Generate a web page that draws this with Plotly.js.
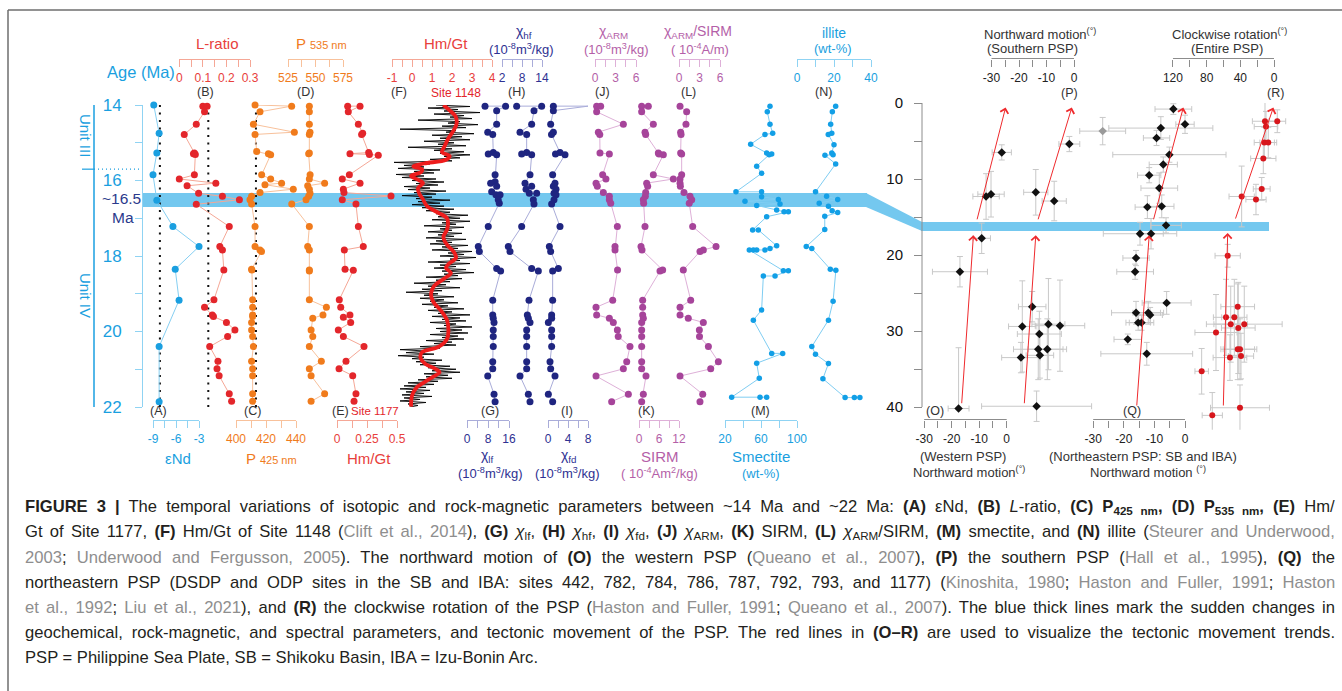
<!DOCTYPE html>
<html><head><meta charset="utf-8">
<script src="https://cdn.plot.ly/plotly-3.0.1.min.js"></script>
<style>html,body{margin:0;padding:0;background:#fff;}#chart{width:1342px;height:691px;}</style>
</head><body><div id="chart"></div>
<script>
// ---------------- DATA ----------------
// (A) eNd
const eNdAge = [14.0, 14.75, 15.27, 15.85, 16.52, 17.22, 17.75, 18.35, 19.17, 20.4, 21.86];
const eNdVal = [-8.9, -8.2, -8.5, -9.0, -8.5, -6.4, -3.0, -6.1, -5.6, -8.2, -8.2];
const eNdRef = -8.1;
// (B) L-ratio
const lRatioAge = [14.03, 14.03, 14.18, 14.51, 14.78, 15.27, 15.29, 15.31, 15.85, 15.96, 16.07, 16.14, 16.34, 16.42, 16.51, 16.63, 17.22, 17.75, 17.84, 18.37, 19.16, 19.36, 19.56, 19.6, 19.76, 19.96, 20.13, 20.4, 20.79, 20.99, 21.17, 21.65, 21.85];
const lRatioVal = [0.10, 0.118, 0.107, 0.072, 0.021, 0.064, 0.060, 0.068, 0.064, 0.0, 0.155, 0.033, 0.082, 0.183, 0.255, 0.072, 0.212, 0.172, 0.183, 0.189, 0.147, 0.107, 0.14, 0.145, 0.2, 0.236, 0.205, 0.129, 0.164, 0.16, 0.169, 0.212, 0.222];
const lRatioRef = 0.123;
// (C) P425
const p425Age = [14.0, 14.03, 14.18, 14.51, 14.72, 14.78, 15.23, 15.29, 15.32, 15.85, 15.96, 16.07, 16.11, 16.23, 16.32, 16.42, 16.51, 16.62, 17.22, 17.75, 17.84, 17.88, 18.35, 18.37, 19.16, 19.36, 19.56, 19.6, 19.76, 19.96, 20.13, 20.4, 20.79, 20.99, 21.17, 21.65, 21.85];
const p425Val = [412.7, 437.1, 416, 411.6, 438.9, 412.7, 413.8, 421.6, 423.1, 417.1, 423.1, 430.4, 419.3, 438.2, 416, 410.4, 409.3, 410.4, 412.7, 412.7, 416, 417, 410.4, 410.6, 411.1, 411.1, 411.1, 411.1, 410.4, 410.4, 411.1, 411.6, 410.4, 411.1, 411.1, 411.1, 411.1];
const p425Ref = 413.3;
// (D) P535
const p535Age = [14.03, 14.18, 14.51, 14.72, 14.78, 15.27, 15.29, 15.85, 15.96, 16.07, 16.14, 16.23, 16.34, 16.42, 16.51, 16.62, 17.22, 17.75, 17.84, 18.37, 18.4, 19.16, 19.36, 19.56, 19.65, 19.96, 20.13, 20.4, 20.79, 20.99, 21.17, 21.65, 21.85];
const p535Val = [544.4, 544.4, 544.4, 545, 544.4, 544.4, 543.8, 545.1, 544.4, 558.3, 542.9, 544.4, 545, 543.8, 541.4, 528.4, 544.4, 542.9, 544.4, 544.4, 544.4, 544.4, 559.9, 556.8, 547.5, 546, 547.5, 544.4, 555.3, 544.4, 546, 558.3, 546];
// (E) Hm/Gt Site 1177
const hg1177Age = [14.03, 14.03, 14.18, 14.51, 14.75, 14.78, 15.26, 15.29, 15.31, 15.33, 15.85, 15.96, 16.07, 16.23, 16.32, 16.41, 16.51, 16.62, 17.22, 17.75, 17.84, 18.35, 18.38, 19.16, 19.36, 19.56, 19.62, 19.76, 19.96, 20.13, 20.4, 20.79, 20.99, 21.17, 21.65, 21.85];
const hg1177Val = [0.089, 0.192, 0.094, 0.178, 0.214, 0.205, 0.264, 0.108, 0.27, 0.344, 0.103, 0.044, 0.192, 0.053, 0.058, 0.45, 0.044, 0.158, 0.178, 0.219, 0.061, 0.067, 0.136, 0.019, 0.031, 0.108, 0.053, 0.114, 0.011, 0.053, 0.225, 0.075, 0.017, 0.131, 0.158, 0.142];
// (F) Hm/Gt Site 1148 : raw record (black) and smoothed (red)
const hg1148Age = [
14.00,14.04,14.08,14.12,14.16,14.20,14.24,14.28,14.32,14.36,14.40,14.44,14.48,14.52,14.56,14.60,14.64,14.68,14.72,14.76,14.80,14.84,14.88,14.92,14.96,
15.00,15.04,15.08,15.12,15.16,15.20,15.24,15.28,15.32,15.36,15.40,15.44,15.48,15.52,15.56,15.60,15.64,15.68,15.72,15.76,15.80,15.84,15.88,15.92,15.96,
16.00,16.04,16.08,16.12,16.16,16.20,16.24,16.28,16.32,16.36,16.40,16.44,16.48,16.52,16.56,16.60,16.64,16.68,16.72,16.76,16.80,16.84,16.88,16.92,16.96,
17.00,17.04,17.08,17.12,17.16,17.20,17.24,17.28,17.32,17.36,17.40,17.44,17.48,17.52,17.56,17.60,17.64,17.68,17.72,17.76,17.80,17.84,17.88,17.92,17.96,
18.00,18.04,18.08,18.12,18.16,18.20,18.24,18.28,18.32,18.36,18.40,18.44,18.48,18.52,18.56,18.60,18.64,18.68,18.72,18.76,18.80,18.84,18.88,18.92,18.96,
19.00,19.04,19.08,19.12,19.16,19.20,19.24,19.28,19.32,19.36,19.40,19.44,19.48,19.52,19.56,19.60,19.64,19.68,19.72,19.76,19.80,19.84,19.88,19.92,19.96,
20.00,20.04,20.08,20.12,20.16,20.20,20.24,20.28,20.32,20.36,20.40,20.44,20.48,20.52,20.56,20.60,20.64,20.68,20.72,20.76,20.80,20.84,20.88,20.92,20.96,
21.00,21.04,21.08,21.12,21.16,21.20,21.24,21.28,21.32,21.36,21.40,21.44,21.48,21.52,21.56,21.60,21.64,21.68,21.72,21.76,21.80,21.84,21.88,21.92,21.96,
22.00];
const hg1148Val = [
1.2,2.9,0.8,2.3,1.6,3.4,1.1,2.6,1.9,3.0,0.3,2.4,1.8,3.3,1.5,2.7,-0.6,2.2,1.7,3.1,1.0,2.5,1.4,2.9,0.6,
2.1,1.3,2.7,-0.2,2.0,1.1,2.6,1.4,2.9,1.6,2.4,0.9,2.0,-0.9,0.9,-0.4,0.6,-0.7,1.4,0.1,1.1,-0.8,0.6,-0.5,1.2,
0.0,1.6,0.2,1.3,-0.4,0.9,-0.2,1.7,0.1,1.2,-0.5,1.0,0.2,1.9,0.3,1.4,0.0,1.6,0.5,2.1,0.7,1.9,1.2,2.8,1.3,
2.4,1.0,2.9,1.5,2.2,0.6,2.6,1.4,2.0,0.8,2.5,1.3,2.1,0.7,2.7,1.2,2.0,0.9,2.8,1.5,2.3,1.0,3.0,1.8,2.6,
1.4,3.2,1.9,2.4,0.8,2.9,1.4,2.2,1.1,2.7,1.5,3.1,1.6,2.3,0.7,2.5,1.2,1.9,0.1,1.7,0.8,2.4,0.5,1.5,-0.3,
1.3,0.6,2.1,0.4,1.6,0.9,2.3,0.5,1.8,1.1,2.6,0.8,2.0,1.3,2.9,1.0,2.4,1.5,2.7,0.9,2.2,1.6,3.0,1.2,2.5,
1.4,2.8,0.9,2.3,1.5,2.6,0.7,2.0,1.1,2.2,0.4,1.4,-0.6,0.8,-0.3,1.1,-0.7,0.6,0.0,1.5,0.2,1.2,0.4,1.9,0.8,
2.2,1.0,2.4,0.6,1.8,0.7,2.0,0.3,1.3,-0.2,1.1,-0.4,0.7,-0.6,0.9,-0.3,0.6,-0.5,1.0,-0.4,0.4,-0.6,0.7,-0.2,0.3,
-0.1];
const hg1148SmoothAge = [14.0,14.15,14.3,14.5,14.7,14.9,15.1,15.25,15.35,15.45,15.55,15.63,15.7,15.78,15.88,15.98,16.07,16.2,16.33,16.5,16.68,16.85,17.0,17.15,17.3,17.5,17.7,17.9,18.05,18.2,18.32,18.45,18.6,18.8,19.0,19.2,19.45,19.7,20.0,20.2,20.4,20.55,20.68,20.85,21.0,21.08,21.2,21.35,21.5,21.7,21.99];
const hg1148SmoothVal = [1.57,1.9,2.18,2.23,2.05,1.8,1.62,1.5,1.88,1.7,0.6,0.07,0.5,0.45,-0.05,0.3,0.55,0.3,0.35,0.55,0.75,1.3,1.75,1.8,1.75,1.57,1.75,2.1,2.2,1.85,1.7,1.95,1.6,1.1,0.95,1.05,1.45,1.75,1.82,1.75,1.35,0.5,0.42,0.65,1.2,1.38,1.05,0.6,0.2,0.0,-0.05];
// (G) chi_lf
const chiLfAge = [14.03, 14.03, 14.15, 14.51, 14.72, 14.78, 15.26, 15.3, 15.32, 15.85, 16.03, 16.07, 16.15, 16.3, 16.38, 16.38, 16.51, 16.6, 17.22, 17.75, 17.88, 18.33, 18.4, 19.17, 19.56, 19.65, 19.76, 19.96, 20.13, 20.4, 20.8, 20.99, 21.18, 21.66, 21.86];
const chiLfVal = [6.86, 14.7, 11.3, 11.3, 7.9, 9.8, 10, 8.1, 11.3, 10.7, 10.7, 9.0, 11.3, 9.4, 11.0, 12.6, 11.9, 12.3, 8.1, 4.3, 4.7, 11.3, 12.8, 9.8, 9.8, 10.0, 10.3, 10.0, 10.0, 10.0, 9.8, 9.8, 7.9, 10.3, 10.7];
// (H) chi_hf
const chiHfAge = [14.03, 14.03, 14.15, 14.51, 14.72, 14.78, 15.26, 15.3, 15.32, 15.85, 16.07, 16.15, 16.23, 16.34, 16.34, 16.51, 16.62, 17.22, 17.75, 17.88, 18.33, 18.4, 19.17, 19.56, 19.65, 19.76, 19.96, 20.13, 20.4, 20.8, 20.99, 21.18, 21.66, 21.86];
const chiHfVal = [6.4, 13.9, 11.6, 10.9, 7.4, 9.4, 9.4, 7.9, 10.9, 10.4, 8.9, 10.9, 9.2, 10.2, 12.4, 11.4, 11.6, 7.9, 3.9, 4.4, 10.9, 12.9, 10.1, 9.6, 9.9, 10.4, 9.4, 9.4, 9.4, 9.4, 9.4, 7.4, 9.9, 10.4];
// (I) chi_fd
const chiFdAge = [14.03, 14.03, 14.15, 14.51, 14.72, 14.78, 15.26, 15.3, 15.32, 15.85, 16.07, 16.15, 16.23, 16.34, 16.38, 16.51, 16.62, 17.22, 17.75, 17.88, 18.33, 18.4, 19.17, 19.56, 19.65, 19.76, 19.96, 20.13, 20.4, 20.8, 20.99, 21.18, 21.66, 21.86];
const chiFdVal = [1.07, 8.07, 1.07, 0.53, 1.07, 0.7, 2.4, 1.5, 3.4, 0.93, 1.4, 1.07, 1.6, 1.2, 1.6, 1.2, 0.73, 2.4, 0.27, 0.53, 2.07, 0.93, 0.93, 0.73, 0.73, 0.07, 0.73, 0.73, 0.73, 0.4, 0.53, 1.4, 0.07, 0.93];
// (J) chi_ARM
const chiArmAge = [14.03, 14.03, 14.18, 14.51, 14.72, 14.78, 15.27, 15.3, 15.85, 15.96, 16.07, 16.15, 16.32, 16.42, 16.51, 16.6, 17.22, 17.75, 17.84, 18.37, 19.17, 19.36, 19.56, 19.65, 19.76, 19.96, 20.13, 20.4, 20.8, 20.99, 21.18, 21.66, 21.86];
const chiArmVal = [0.24, 0.83, 0.24, 4.15, 0.49, 0.7, 0.73, 2.1, 1.12, 1.6, 0.15, 0.34, 1.22, 2.1, 2.1, 2.3, 3.27, 2.93, 2.93, 3.3, 2.59, 0.15, 0.24, 2.1, 2.68, 3.27, 3.4, 5.12, 4.64, 4.15, 0.15, 4.88, 2.44];
// (K) SIRM
const sirmAge = [14.03, 14.03, 14.18, 14.51, 14.72, 14.78, 15.27, 15.3, 15.32, 15.85, 15.96, 16.07, 16.15, 16.32, 16.42, 16.51, 16.6, 17.22, 17.75, 17.84, 18.37, 18.4, 19.17, 19.36, 19.56, 19.65, 19.76, 19.96, 20.13, 20.4, 20.8, 20.99, 21.18, 21.66, 21.86];
const sirmVal = [0.8, 2.8, 0.8, 4.3, 1.8, 2.0, 5.8, 6.0, 7.3, 4.3, 10.3, 2.3, 2.6, 2.0, 1.9, 1.3, 1.4, 1.8, 0.6, 0.9, 7.1, 6.3, 1.1, 1.1, 1.1, 1.3, 0.8, 0.8, 0.8, 0.8, 0.8, 0.8, 2.1, 1.3, 0.8];
// (L) chi_ARM/SIRM
const armSirmAge = [14.03, 14.18, 14.51, 14.72, 14.78, 15.27, 15.3, 15.85, 15.96, 16.07, 16.15, 16.32, 16.42, 16.51, 16.6, 17.22, 17.75, 17.84, 17.88, 18.37, 19.17, 19.36, 19.56, 19.65, 19.76, 19.96, 20.13, 20.4, 20.8, 20.99, 21.18, 21.66, 21.86];
const armSirmVal = [0.15, 1.12, 1.02, 0.24, 0.3, 0.24, 0.39, 0.39, 0.15, 0.15, 0.2, 0.73, 1.61, 1.86, 1.5, 2.0, 5.42, 3.56, 3.07, 0.63, 1.71, 0.15, 0.15, 1.36, 3.56, 2.98, 3.0, 4.3, 5.76, 4.64, 0.15, 3.47, 3.07];
// (M) smectite
const smecAge = [14.03, 14.18, 14.51, 14.75, 14.78, 15.04, 15.27, 15.30, 15.32, 15.62, 15.81, 16.30, 16.30, 16.43, 16.50, 16.55, 16.62, 16.66, 16.78, 16.83, 16.83, 16.96, 17.31, 17.31, 17.73, 17.80, 17.84, 17.84, 17.84, 17.84, 18.39, 18.39, 18.53, 18.53, 19.43, 19.70, 20.58, 20.58, 20.84, 21.24, 21.74, 21.74, 21.74];
const smecVal = [70, 67, 70, 73, 64.4, 48.5, 66.3, 71.9, 69, 55.2, 60.7, 32.2, 60.7, 60.7, 79.3, 42.2, 81.1, 55.2, 77.4, 85.6, 90.4, 66.3, 50.7, 57.0, 77.4, 70, 64.4, 55.2, 51.5, 47, 84.8, 90.4, 75.6, 62.6, 60.7, 51.5, 71.9, 84.1, 55.2, 58.1, 27.4, 58.9, 66.3];
// (N) illite
const illAge = [14.03, 14.18, 14.51, 14.75, 14.78, 15.05, 15.27, 15.32, 15.33, 15.56, 16.3, 16.42, 16.5, 16.6, 16.68, 16.8, 16.85, 16.95, 17.3, 17.75, 17.8, 18.35, 18.38, 19.2, 19.7, 20.4, 20.6, 20.85, 21.25, 21.75, 21.75, 21.75];
const illVal = [20.9, 19.1, 18.2, 18.8, 16.9, 20, 18.8, 19.5, 15.1, 20.9, 10, 16, 22, 12, 17, 19, 22, 15, 15, 5, 8, 18, 21, 19.5, 17, 8, 10, 17, 14, 26, 31, 34];
// (O) western PSP northward motion
const westAge = [6.5, 12.0, 12.3, 17.8, 22.2, 40.2];
const westVal = [-1.8, -5.7, -7.5, -9.1, -17.0, -17.5];
const westErrX = [3.5, 4.8, 4.8, 3.2, 10, 3.8];
const westErrYUp = [1, 3, 3, 2, 2, 8];
const westErrYDown = [1, 3, 3, 2, 2, 0];
// (P) southern PSP northward motion
const southAge = [5.4, 11.75, 12.9, 26.8, 29.1, 29.3, 29.4, 30.4, 32.4, 32.4, 33.2, 33.5, 39.9];
const southVal = [-1.7, -13.9, -7.2, -15.2, -9.3, -5.1, -18.8, -12.6, -13, -9.7, -12.4, -19.3, -13.6];
const southErrX = [3.8, 4.4, 4.4, 5, 6, 9, 5, 8, 9, 7, 5, 7, 20];
const southErrY = [1, 3, 2.6, 2, 6, 6, 6, 3, 4, 4, 3, 2, 2];
// (Q) northeastern PSP northward motion
const neAge = [0.8, 2.8, 3.3, 4.6, 6.8, 8.1, 9.5, 11.2, 13.6, 13.7, 16.1, 17.2, 17.2, 20.4, 22.2, 26.3, 27.6, 27.6, 27.9, 28.9, 28.9, 31.1, 33.0];
const neVal = [-3.8, 0, -7.9, -9.3, -5.1, -7.1, -11.7, -8.4, -7.6, -12.3, -6.2, -14.7, -11.1, -16, -16.3, -6, -16, -12, -11.4, -15.3, -14.2, -18.7, -12.5];
const neErrX = [6, 3, 17, 4.3, 18.5, 4.6, 3.8, 6, 4, 4, 5, 12, 4, 4.3, 6, 8, 8, 5, 4, 4, 4, 4.5, 15];
const neErrY = [0.7, 1.2, 1.5, 1, 1, 1, 1, 2, 1.5, 1.5, 1, 1.5, 2, 1, 1, 1.5, 1.5, 1.5, 1, 1, 1, 0.7, 1.5];
const neOutAge = [3.7], neOutVal = [-26.9], neOutErrX = [7.5], neOutErrY = [1.8];
// (R) clockwise rotation of entire PSP
const rotAge = [2.4, 2.4, 3.1, 5.2, 5.2, 7.3, 11.3, 12.3, 12.7, 20.1, 26.8, 28.2, 28.2, 29.1, 29.1, 29.6, 30.2, 32.4, 32.4, 33.3, 33.5, 35.3, 40.1, 41.1];
const rotVal = [10.7, -3.9, 9.5, 11.5, 6.8, 12.7, 14.6, 38.4, 21.4, 55, 43.1, 57, 47.1, 51.4, 35.3, 42.4, 68.9, 43.1, 40.4, 39.2, 52.3, 85.9, 40.4, 73.3];
const rotErrX = [15, 10, 14, 12, 10, 15, 10, 15, 12, 15, 20, 15, 15, 20, 45, 20, 25, 20, 20, 15, 20, 8, 35, 12];
const rotErrY = [2.5, 1.5, 2, 2, 2, 2, 1.5, 4, 2, 1.5, 3, 5, 5, 5, 5, 6, 5, 4, 4, 3, 3, 3, 3, 3];
// trend arrows (O, O, P, P, Q, Q, R, R)
const trendPanel = ['O','O','P','P','Q','Q','R','R'];
const trendTailVal = [-16.4, -10.9, -18.1, -13.2, -15.8, -10.4, 60.2, 46.3];
const trendTailAge = [39.7, 15.5, 39.7, 15.5, 40.0, 15.5, 40.0, 15.4];
const trendHeadVal = [-12.1, -0.4, -13.9, -0.8, -11.7, -0.56, 55.0, 0.8];
const trendHeadAge = [17.4, 0.6, 17.4, 0.6, 17.4, 0.6, 17.1, 0.6];
// sudden-change band (~16.5 Ma)
const bandLeftAge = [16.33, 16.70];
const bandRightAge = [15.66, 16.84];
const unitBoundaryAge = 15.7;
// tick values / labels
const ageTicksLeft = [14,15,16,17,18,19,20,21,22];
const ageLabelsLeft = ['14','','16','','18','','20','','22'];
const ageTicksRight = [0,5,10,15,20,25,30,35,40];
const ageLabelsRight = ['0','','10','','20','','30','','40'];
const ticksA = [-9,-7.5,-6,-4.5,-3], labelsA = ['-9','','-6','','-3'];
const ticksB = [0,0.05,0.1,0.15,0.2,0.25,0.3], labelsB = ['0','','0.1','','0.2','','0.3'];
const ticksC = [400,410,420,430,440], labelsC = ['400','','420','','440'];
const ticksD = [525,537.5,550,562.5,575], labelsD = ['525','','550','','575'];
const ticksE = [0,0.125,0.25,0.375,0.5], labelsE = ['0','','0.25','','0.5'];
const ticksF = [-1,-0.5,0,0.5,1,1.5,2,2.5,3,3.5,4], labelsF = ['-1','','0','','1','','2','','3','','4'];
const ticksG = [0,4,8,12,16], labelsG = ['0','','8','','16'];
const ticksH = [2,5,8,11,14], labelsH = ['2','','8','','14'];
const ticksI = [0,2,4,6,8], labelsI = ['0','','4','','8'];
const ticksJ = [0,1.5,3,4.5,6], labelsJ = ['0','','3','','6'];
const ticksK = [0,3,6,9,12], labelsK = ['0','','6','','12'];
const ticksL = [0,1.5,3,4.5,6], labelsL = ['0','','3','','6'];
const ticksM = [20,40,60,80,100], labelsM = ['20','','60','','100'];
const ticksN = [0,10,20,30,40], labelsN = ['0','','20','','40'];
const ticksMotion = [-30,-25,-20,-15,-10,-5,0], labelsMotion = ['-30','','-20','','-10','','0'];
const ticksRot = [120,100,80,60,40,20,0], labelsRot = ['120','','80','','40','','0'];

// ---------------- LAYOUT HELPERS ----------------
const FONT = 'Liberation Sans, Arial, Helvetica, sans-serif';
const W = 1342, H = 691;
const px = x => x / W;
const py = y => 1 - y / H;
const leftY = a => 105 + (a - 14) * 37.75;
const rightY = a => 103 + a * 7.6;
const TOPPOS = py(58.5), BOTPOS = py(419.5);

const col = {
  blue:'#1a9fe0', blueL:'#8fd3f3', red:'#e3262b', redT:'#e8403c', redL:'#f5a796',
  orange:'#f07b1c', orangeL:'#f8c19b', navy:'#1f2580', navyL:'#a9acd9', navyT:'#2e3192',
  purple:'#a6449a', purpleL:'#deb0d8', purpleT:'#b45fa8', gray:'#8a8a8a', dark:'#333333'
};

const layout = {
  width: W, height: H, margin:{l:0,r:0,t:0,b:0}, paper_bgcolor:'#ffffff', plot_bgcolor:'rgba(0,0,0,0)',
  showlegend:false, font:{family:FONT}, shapes:[], annotations:[]
};

function xAxis(x0, x1, lo, hi, top, tv, tt, lineCol, fontCol, showLine) {
  return {domain:[px(x0), px(x1)], range:[lo, hi], anchor:'free', position: top ? TOPPOS : BOTPOS, side:'bottom',
    showline: showLine, linecolor: lineCol, linewidth:1, ticks:'outside', ticklen:7, tickwidth:1, tickcolor: lineCol,
    tickmode:'array', tickvals: tv, ticktext: tt, tickfont:{family:FONT, size:12, color: fontCol},
    showgrid:false, zeroline:false, fixedrange:true, ticklabelstandoff:1};
}

const leftPanels = [
  ['A',153,199,-9,-3,false,ticksA,labelsA,col.blueL,col.blue],
  ['B',179.3,250,0,0.3,true,ticksB,labelsB,col.redL,col.redT],
  ['C',236,296,400,440,false,ticksC,labelsC,col.orangeL,col.orange],
  ['D',288,343,525,575,true,ticksD,labelsD,col.orangeL,col.orange],
  ['E',337,397,0,0.5,false,ticksE,labelsE,col.redL,col.redT],
  ['F',392,492,-1,4,true,ticksF,labelsF,col.redL,col.redT],
  ['G',467,509,0,16,false,ticksG,labelsG,col.navyL,col.navyT],
  ['H',502,542,2,14,true,ticksH,labelsH,col.navyL,col.navyT],
  ['I',548,588,0,8,false,ticksI,labelsI,col.navyL,col.navyT],
  ['J',595,636,0,6,true,ticksJ,labelsJ,col.purpleL,col.purpleT],
  ['K',639,679,0,12,false,ticksK,labelsK,col.purpleL,col.purpleT],
  ['L',679,720,0,6,true,ticksL,labelsL,col.purpleL,col.purpleT],
  ['M',725,797,20,100,false,ticksM,labelsM,col.blueL,col.blue],
  ['N',797,871,0,40,true,ticksN,labelsN,col.blueL,col.blue]
];
const axId = {};
leftPanels.forEach((p, i) => {
  const n = i + 1;
  axId[p[0]] = 'x' + (n === 1 ? '' : n);
  layout['xaxis' + (n === 1 ? '' : n)] = xAxis(p[1], p[2], p[3], p[4], p[5], p[6], p[7], p[8], p[9], true);
});
const RX0 = 880, RX1 = 1300;
const rightPanels = [
  ['O',1006.7,2.75,false,false,ticksMotion,labelsMotion,-30,0],
  ['P',1074,2.75,false,true,ticksMotion,labelsMotion,-30,0],
  ['Q',1185,3.06,false,false,ticksMotion,labelsMotion,-30,0],
  ['R',1274,0.842,true,true,ticksRot,labelsRot,120,0]
];
rightPanels.forEach((p, i) => {
  const n = 15 + i;
  axId[p[0]] = 'x' + n;
  let lo, hi;
  if (!p[3]) { lo = (RX0 - p[1]) / p[2]; hi = (RX1 - p[1]) / p[2]; }
  else { lo = (p[1] - RX0) / p[2]; hi = (p[1] - RX1) / p[2]; }
  layout['xaxis' + n] = xAxis(RX0, RX1, lo, hi, p[4], p[5], p[6], '#8c8c8c', '#222', false);
  layout.shapes.push({type:'line', xref:'x' + n, yref:'paper', x0:p[7], x1:p[8], y0:p[4]?TOPPOS:BOTPOS, y1:p[4]?TOPPOS:BOTPOS, line:{color:'#8c8c8c', width:1}});
});

layout.yaxis = {domain:[py(407), py(105)], range:[22,14], anchor:'free', position:px(142), side:'left',
  showline:true, linecolor:col.blueL, linewidth:1, ticks:'outside', ticklen:7, tickcolor:col.blueL,
  tickmode:'array', tickvals:ageTicksLeft, ticktext:ageLabelsLeft, tickfont:{family:FONT, size:17, color:col.blue},
  ticklabelstandoff:10, showgrid:false, zeroline:false, fixedrange:true};
layout.yaxis2 = {domain:[py(rightY(43)), py(103)], range:[43,0], anchor:'free', position:px(922), side:'left',
  showline:false, ticks:'outside', ticklen:8, tickcolor:'#8c8c8c',
  tickmode:'array', tickvals:ageTicksRight, ticktext:ageLabelsRight, tickfont:{family:FONT, size:15, color:'#111'},
  ticklabelstandoff:8, showgrid:false, zeroline:false, fixedrange:true};
layout.shapes.push({type:'line', xref:'paper', yref:'y2', x0:px(922), x1:px(922), y0:0, y1:40, line:{color:'#8c8c8c', width:1}});

// bands
const BAND = '#74c8ef';
layout.shapes.push({type:'rect', layer:'below', xref:'paper', yref:'y', x0:px(142), x1:px(867), y0:bandLeftAge[0], y1:bandLeftAge[1], fillcolor:BAND, line:{width:0}});
layout.shapes.push({type:'path', layer:'below', xref:'paper', yref:'paper',
  path:`M ${px(866)},${py(leftY(bandLeftAge[0]))} L ${px(922)},${py(rightY(bandRightAge[0]))} L ${px(922)},${py(rightY(bandRightAge[1]))} L ${px(866)},${py(leftY(bandLeftAge[1]))} Z`,
  fillcolor:BAND, line:{width:0}});
layout.shapes.push({type:'rect', layer:'below', xref:'paper', yref:'y2', x0:px(921), x1:px(1269), y0:bandRightAge[0], y1:bandRightAge[1], fillcolor:BAND, line:{width:0}});

// unit decorations
layout.shapes.push({type:'line', xref:'paper', yref:'y', x0:px(94), x1:px(94), y0:13.87, y1:22, line:{color:col.blue, width:1.5}});
layout.shapes.push({type:'line', xref:'paper', yref:'y', x0:px(82), x1:px(94), y0:unitBoundaryAge, y1:unitBoundaryAge, line:{color:col.blue, width:1.2}});
layout.shapes.push({type:'line', xref:'paper', yref:'y', x0:px(94), x1:px(142), y0:unitBoundaryAge, y1:unitBoundaryAge, line:{color:col.blue, width:1.2, dash:'1px,3px'}});

// frame
layout.shapes.push({type:'line', xref:'paper', yref:'paper', x0:px(8), x1:1, y0:py(10), y1:py(10), line:{color:'#6e6e6e', width:1.5}});
layout.shapes.push({type:'line', xref:'paper', yref:'paper', x0:px(8), x1:px(8), y0:py(10), y1:0, line:{color:'#6e6e6e', width:1.5}});

// ---------------- TRACES ----------------
const traces = [];
function series(panel, ages, vals, mcol, lcol, msize) {
  traces.push({type:'scatter', mode:'lines+markers', x:vals, y:ages, xaxis:axId[panel], yaxis:'y',
    line:{color:lcol, width:1}, marker:{color:mcol, size:msize || 7}, cliponaxis:false, hoverinfo:'skip'});
}
function refLine(panel, v) {
  traces.push({type:'scatter', mode:'lines', x:[v, v], y:[14, 22], xaxis:axId[panel], yaxis:'y',
    line:{color:'#111', width:2, dash:'2px,5.5px'}, hoverinfo:'skip', cliponaxis:false});
}
refLine('A', eNdRef); refLine('B', lRatioRef); refLine('C', p425Ref);
series('A', eNdAge, eNdVal, col.blue, '#86cff2');
series('B', lRatioAge, lRatioVal, col.red, col.redL);
series('C', p425Age, p425Val, col.orange, col.orangeL);
series('D', p535Age, p535Val, col.orange, col.orangeL);
series('E', hg1177Age, hg1177Val, col.red, col.redL);
traces.push({type:'scatter', mode:'lines', x:hg1148Val, y:hg1148Age, xaxis:axId.F, yaxis:'y', line:{color:'#000', width:0.9}, hoverinfo:'skip'});
traces.push({type:'scatter', mode:'lines', x:hg1148SmoothVal, y:hg1148SmoothAge, xaxis:axId.F, yaxis:'y', line:{color:'#ee1c1c', width:3.8, shape:'spline', smoothing:1}, hoverinfo:'skip'});
series('G', chiLfAge, chiLfVal, col.navy, col.navyL);
series('H', chiHfAge, chiHfVal, col.navy, col.navyL);
series('I', chiFdAge, chiFdVal, col.navy, col.navyL);
series('J', chiArmAge, chiArmVal, col.purple, col.purpleL);
series('K', sirmAge, sirmVal, col.purple, col.purpleL);
series('L', armSirmAge, armSirmVal, col.purple, col.purpleL);
series('M', smecAge, smecVal, '#129fe6', '#7fcdf2', 5.5);
series('N', illAge, illVal, '#129fe6', '#7fcdf2', 5.5);

function errPts(panel, ages, vals, ex, ey, eyMinus, mcol, symbol) {
  traces.push({type:'scatter', mode:'markers', x:vals, y:ages, xaxis:axId[panel], yaxis:'y2',
    marker:{color:mcol, size:symbol === 'diamond' ? 6.5 : 6, symbol:symbol},
    error_x:{type:'data', array:ex, color:'#c8c8c8', thickness:1, width:3},
    error_y:{type:'data', array:ey, arrayminus:eyMinus || ey, symmetric:false, color:'#c8c8c8', thickness:1, width:3},
    cliponaxis:false, hoverinfo:'skip'});
}
errPts('O', westAge, westVal, westErrX, westErrYDown, westErrYUp, '#111', 'diamond');
errPts('P', southAge, southVal, southErrX, southErrY, null, '#111', 'diamond');
errPts('Q', neAge, neVal, neErrX, neErrY, null, '#111', 'diamond');
errPts('Q', neOutAge, neOutVal, neOutErrX, neOutErrY, null, '#9a9a9a', 'diamond');
errPts('R', rotAge, rotVal, rotErrX, rotErrY, null, '#d7161c', 'circle');

trendPanel.forEach((p, i) => {
  layout.annotations.push({xref:axId[p], yref:'y2', axref:axId[p], ayref:'y2', x:trendHeadVal[i], y:trendHeadAge[i],
    ax:trendTailVal[i], ay:trendTailAge[i], showarrow:true, arrowhead:4, arrowsize:1.6, arrowwidth:1, arrowcolor:'#ef2a2d', text:'', standoff:0});
});

// ---------------- TEXT ----------------
function ann(text, x, y, size, color, extra) {
  layout.annotations.push(Object.assign({text, x:px(x), y:py(y), xref:'paper', yref:'paper', showarrow:false,
    xanchor:'center', yanchor:'middle', font:{family:FONT, size, color}}, extra || {}));
}
const sup = s => `<sup>${s}</sup>`;
const unitMass = `(10${sup('-8')}m${sup('3')}/kg)`;
// top titles
ann('Age (Ma)', 141, 72, 16.5, col.blue);
ann('L-ratio', 218, 43, 15, col.redT);
ann('P <span style="font-size:11px">535 nm</span>', 321, 43, 15, col.orange);
ann('Hm/Gt', 446, 43, 15, col.redT);
ann('χ<sub>hf</sub>', 524, 32, 14, col.navyT);
ann(unitMass, 521, 49, 13, col.navyT);
ann('χ<sub>ARM</sub>', 613, 32, 14, col.purpleT);
ann(unitMass, 616, 49, 13, col.purpleT);
ann('χ<sub>ARM</sub>/SIRM', 698, 32, 14, col.purpleT);
ann(`( 10${sup('-4')}A/m)`, 700, 49, 13, col.purpleT);
ann('illite', 834, 33, 14, col.blue);
ann('(wt-%)', 833, 49, 13, col.blue);
ann('Northward motion' + sup('(°)'), 1040, 34, 13, col.dark);
ann('(Southern PSP)', 1032, 49, 13, col.dark);
ann('Clockwise rotation' + sup('(°)'), 1229, 34, 13, col.dark);
ann('(Entire PSP)', 1227, 49, 13, col.dark);
// panel letters top
ann('(B)', 205, 92, 12.5, col.dark); ann('(D)', 305, 92, 12.5, col.dark); ann('(F)', 399, 92, 12.5, col.dark);
ann('Site 1148', 429, 93, 12, col.red, {xanchor:'left'}); ann('(H)', 516, 92, 12.5, col.dark); ann('(J)', 602, 92, 12.5, col.dark);
ann('(L)', 688, 92, 12.5, col.dark); ann('(N)', 823, 92, 12.5, col.dark);
ann('(P)', 1069, 93, 12.5, col.dark); ann('(R)', 1275, 93, 12.5, col.dark);
// panel letters bottom
ann('(A)', 158, 411, 12.5, col.dark); ann('(C)', 253, 411, 12.5, col.dark); ann('(E)', 340, 411, 12.5, col.dark);
ann('Site 1177', 349, 411, 11.5, col.red, {xanchor:'left'}); ann('(G)', 490, 411, 12.5, col.dark); ann('(I)', 567, 411, 12.5, col.dark);
ann('(K)', 646, 411, 12.5, col.dark); ann('(M)', 760, 411, 12.5, col.dark);
ann('(O)', 935, 411, 12.5, col.dark); ann('(Q)', 1132, 411, 12.5, col.dark);
// bottom titles
ann('εNd', 178, 458, 15, col.blue);
ann('P <span style="font-size:11px">425 nm</span>', 271, 458, 15, col.orange);
ann('Hm/Gt', 369, 458, 15, col.redT);
ann('χ<sub>lf</sub>', 487, 456, 14, col.navyT); ann(unitMass, 490, 473, 13, col.navyT);
ann('χ<sub>fd</sub>', 569, 456, 14, col.navyT); ann(unitMass, 567, 473, 13, col.navyT);
ann('SIRM', 660, 457, 15, col.purpleT); ann(`( 10${sup('-4')}Am${sup('2')}/kg)`, 659, 473, 13, col.purpleT);
ann('Smectite', 761, 457, 15, col.blue); ann('(wt-%)', 761, 473, 13, col.blue);
ann('(Western PSP)', 963, 457, 13, col.dark); ann('Northward motion' + sup('(°)'), 969, 472, 13, col.dark);
ann('(Northeastern PSP: SB and IBA)', 1143, 457, 13, col.dark); ann('Northward motion ' + sup('(°)'), 1148, 472, 13, col.dark);
// age axis extras
ann('~16.5', 121, 198, 15.5, '#2b3a8c'); ann('Ma', 123, 217, 15.5, '#2b3a8c');
ann('Unit III', 86, 135, 15, col.blue, {textangle:90});
ann('Unit IV', 86, 295, 15, col.blue, {textangle:90});

// caption
const g = s => `<span style="color:#8e8e8e">${s}</span>`;
const captionLines = [
  `<b>FIGURE 3 |</b> The temporal variations of isotopic and rock-magnetic parameters between ~14 Ma and ~22 Ma: <b>(A)</b> εNd, <b>(B)</b> <i>L</i>-ratio, <b>(C) P<sub>425 nm</sub>,</b> <b>(D) P<sub>535 nm</sub>,</b> <b>(E)</b> Hm/`,
  `Gt of Site 1177, <b>(F)</b> Hm/Gt of Site 1148 (${g('Clift et al., 2014')}), <b>(G)</b> <i>χ</i><sub>lf</sub>, <b>(H)</b> <i>χ</i><sub>hf</sub>, <b>(I)</b> <i>χ</i><sub>fd</sub>, <b>(J)</b> <i>χ</i><sub>ARM</sub>, <b>(K)</b> SIRM, <b>(L)</b> <i>χ</i><sub>ARM</sub>/SIRM, <b>(M)</b> smectite, and <b>(N)</b> illite (${g('Steurer and Underwood,')}`,
  `${g('2003')}; ${g('Underwood and Fergusson, 2005')}). The northward motion of <b>(O)</b> the western PSP (${g('Queano et al., 2007')}), <b>(P)</b> the southern PSP (${g('Hall et al., 1995')}), <b>(Q)</b> the`,
  `northeastern PSP (DSDP and ODP sites in the SB and IBA: sites 442, 782, 784, 786, 787, 792, 793, and 1177) (${g('Kinoshita, 1980')}; ${g('Haston and Fuller, 1991')}; ${g('Haston')}`,
  `${g('et al., 1992')}; ${g('Liu et al., 2021')}), and <b>(R)</b> the clockwise rotation of the PSP (${g('Haston and Fuller, 1991')}; ${g('Queano et al., 2007')}). The blue thick lines mark the sudden changes in`,
  `geochemical, rock-magnetic, and spectral parameters, and tectonic movement of the PSP. The red lines in <b>(O–R)</b> are used to visualize the tectonic movement trends.`,
  `PSP = Philippine Sea Plate, SB = Shikoku Basin, IBA = Izu-Bonin Arc.`
];
const captionY = [507, 532, 557, 582, 607, 632, 657];
const captionStart = layout.annotations.length;
captionLines.forEach((t, i) => ann(t, 23, captionY[i], 16.6, '#231f20', {xanchor:'left', align:'left'}));

Plotly.newPlot('chart', traces, layout, {staticPlot:true, displayModeBar:false}).then(gd => {
  // justify caption lines (all but the last) to the right edge of the text block
  const target = 1310;
  captionLines.forEach((t, i) => {
    if (i === captionLines.length - 1) return;
    const el = gd.querySelector(`g.annotation[data-index="${captionStart + i}"] text.annotation-text`);
    if (!el) return;
    const w = el.getBBox().width;
    const n = (el.textContent.match(/ /g) || []).length;
    if (n > 0 && w < target) el.style.wordSpacing = ((target - w) / n).toFixed(2) + 'px';
  });
});
</script></body></html>
